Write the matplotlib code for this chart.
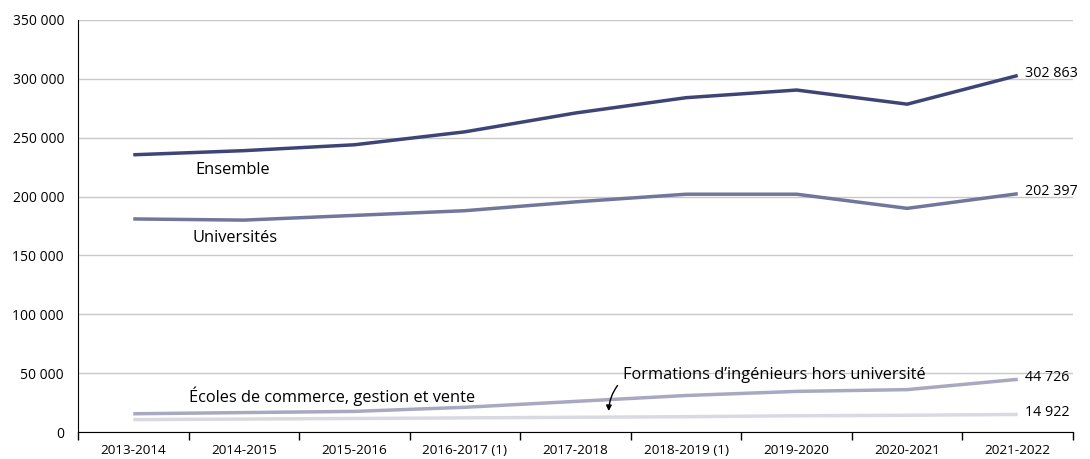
import matplotlib
matplotlib.use("Agg")
import matplotlib.pyplot as plt
from matplotlib.ticker import FuncFormatter, FixedLocator

plt.rcParams['font.family'] = ['Open Sans', 'DejaVu Sans']

years = ["2013-2014", "2014-2015", "2015-2016", "2016-2017 (1)", "2017-2018",
         "2018-2019 (1)", "2019-2020", "2020-2021", "2021-2022"]
ensemble = [235500, 239000, 244000, 255000, 271000, 284000, 290500, 278500, 302863]
universites = [181000, 180000, 184000, 188000, 195500, 202000, 202000, 190000, 202397]
ecoles = [15500, 16500, 17500, 21000, 26000, 31000, 34500, 36000, 44726]
ingenieurs = [10500, 11000, 11500, 12000, 12500, 13000, 13800, 14200, 14922]

fig = plt.figure(figsize=(10.9, 4.59), dpi=100)
ax = fig.add_axes([78/1090, 1-432/459, (1073-78)/1090, (432-20)/459])

x = list(range(len(years)))
ax.plot(x, ingenieurs, color="#d9d9e2", lw=2.5, solid_capstyle="butt", zorder=3)
ax.plot(x, ecoles, color="#a8a9c1", lw=2.5, solid_capstyle="butt", zorder=3)
ax.plot(x, universites, color="#72769a", lw=2.5, solid_capstyle="butt", zorder=3)
ax.plot(x, ensemble, color="#3e4576", lw=2.5, solid_capstyle="butt", zorder=3)

ax.set_xlim(-0.5, 8.5)
ax.set_ylim(0, 350000)
ax.yaxis.set_major_locator(FixedLocator(range(0, 350001, 50000)))
ax.yaxis.set_major_formatter(FuncFormatter(lambda v, p: f"{int(v):,}".replace(",", " ")))
ax.tick_params(axis="y", length=0, pad=10, labelsize=10)
ax.grid(axis="y", color="#c8c8c8", lw=1)
ax.set_axisbelow(True)

ax.set_xticks(x)
ax.set_xticklabels(years)
ax.tick_params(axis="x", which="major", length=0, pad=9, labelsize=9.7)
ax.set_xticks([i - 0.5 for i in range(len(years) + 1)], minor=True)
ax.tick_params(axis="x", which="minor", length=6, width=1, color="black")

for s in ["top", "right"]:
    ax.spines[s].set_visible(False)
ax.spines["left"].set_color("black")
ax.spines["bottom"].set_color("black")
ax.spines["bottom"].set_zorder(4)

fs = 11.8
ax.text(0.9, 222500, "Ensemble", ha="center", va="center", fontsize=fs)
ax.text(0.92, 164500, "Universités", ha="center", va="center", fontsize=fs)
ax.text(0.5, 30600, "Écoles de commerce, gestion et vente", ha="left", va="center", fontsize=fs)
ax.text(4.43, 48500, "Formations d’ingénieurs hors université", ha="left", va="center",
        fontsize=fs, zorder=5)
ax.annotate("", xy=(4.3, 17800), xytext=(4.38, 39500),
            arrowprops=dict(arrowstyle="-|>", color="black", lw=1, shrinkA=0, shrinkB=0,
                            connectionstyle="arc3,rad=0.15", mutation_scale=8))

last = len(years) - 1
for vals in [ensemble, universites, ecoles, ingenieurs]:
    ax.text(last + 0.07, vals[-1] + 1500, f"{vals[-1]:,}".replace(",", " "),
            ha="left", va="center", fontsize=10.3)

fig.savefig("out.png", dpi=100)
